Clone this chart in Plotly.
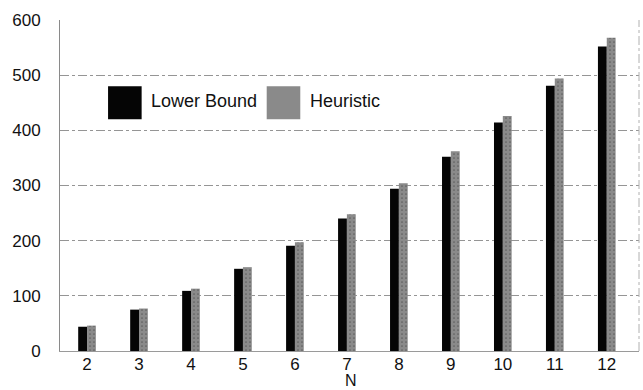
import plotly.graph_objects as go

N = [2, 3, 4, 5, 6, 7, 8, 9, 10, 11, 12]
lower_bound = [44, 75, 109, 149, 191, 240, 294, 352, 414, 481, 552]
heuristic = [46, 77, 113, 152, 197, 248, 304, 362, 426, 494, 568]
y_ticks = [0, 100, 200, 300, 400, 500, 600]

FONT = "Liberation Sans, Arial, sans-serif"

fig = go.Figure()
fig.add_trace(go.Bar(x=N, y=lower_bound, name="Lower Bound",
                     marker=dict(color="#050505", line=dict(width=0))))
fig.add_trace(go.Bar(x=N, y=heuristic, name="Heuristic",
                     marker=dict(color="#8a8a8a", line=dict(width=0),
                                 pattern=dict(shape=".", fgcolor="#333333", size=4, solidity=0.15))))

fig.update_layout(
    width=643, height=390,
    margin=dict(l=60, r=4, t=20, b=39),
    paper_bgcolor="white", plot_bgcolor="white",
    barmode="group", bargap=0.66, bargroupgap=0,
    showlegend=False,
    font=dict(family=FONT, size=17, color="#111"),
)
fig.update_xaxes(
    range=[1.48, 12.62], tickmode="array", tickvals=N, ticktext=[str(n) for n in N],
    showgrid=False, zeroline=False, showline=True, linecolor="#9a9a9a", linewidth=1,
    ticks="", ticklabelstandoff=-2,
    automargin=False,
)
fig.update_yaxes(
    range=[0, 600], tickmode="array", tickvals=y_ticks,
    showgrid=True, gridcolor="#959595", griddash="dashdot", gridwidth=1,
    zeroline=False, showline=True, linecolor="#8a8a8a", linewidth=1,
    ticks="", ticklabelstandoff=15, automargin=False,
)
# right frame line (faint)
fig.add_shape(type="line", xref="paper", yref="paper", x0=1, x1=1, y0=0, y1=1,
              line=dict(color="#b0b0b0", width=1, dash="dashdot"))

# x-axis title
fig.add_annotation(xref="paper", yref="paper", x=0.502, y=-0.089, text="N",
                   showarrow=False, xanchor="center", yanchor="middle",
                   font=dict(size=16))

# custom legend with large swatches
fig.add_shape(type="rect", xref="paper", yref="paper", x0=0.083, x1=0.141, y0=0.70, y1=0.80,
              fillcolor="#050505", line=dict(width=0))
fig.add_annotation(xref="paper", yref="paper", x=0.153, y=0.755, text="Lower Bound",
                   showarrow=False, xanchor="left", yanchor="middle", font=dict(size=18))
fig.add_shape(type="rect", xref="paper", yref="paper", x0=0.357, x1=0.415, y0=0.70, y1=0.80,
              fillcolor="#8a8a8a", line=dict(width=0))
fig.add_annotation(xref="paper", yref="paper", x=0.429, y=0.755, text="Heuristic",
                   showarrow=False, xanchor="left", yanchor="middle", font=dict(size=18))

fig.write_html("out.html", config={"displayModeBar": False},
               post_script="document.body.style.margin='0';")
